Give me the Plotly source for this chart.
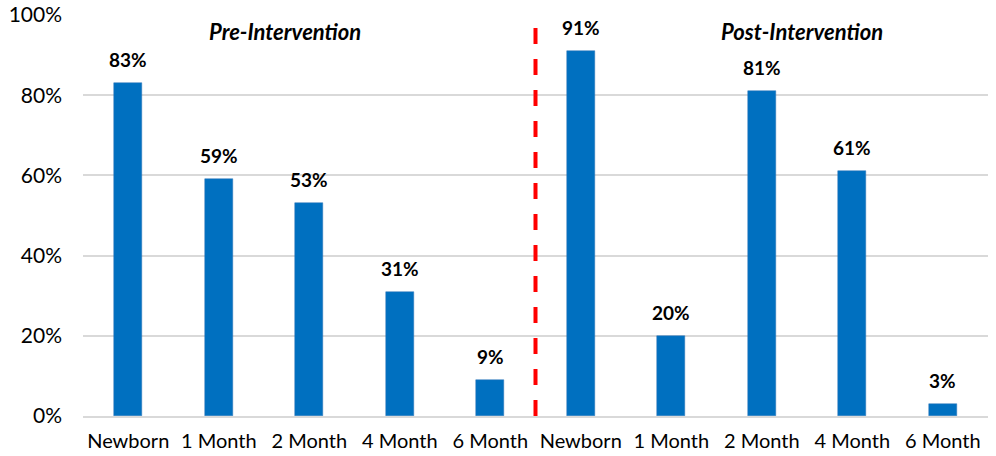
import plotly.graph_objects as go

categories = ["Newborn", "1 Month", "2 Month", "4 Month", "6 Month",
              "Newborn", "1 Month", "2 Month", "4 Month", "6 Month"]
values = [83, 59, 53, 31, 9, 91, 20, 81, 61, 3]
y_ticks = [0, 20, 40, 60, 80, 100]
y_tick_labels = ["0%", "20%", "40%", "60%", "80%", "100%"]
section_labels = ["Pre-Intervention", "Post-Intervention"]
section_centers = [1.73, 7.44]

x = list(range(len(categories)))
FONT = "Lato, 'Open Sans', sans-serif"

fig = go.Figure()
fig.add_trace(go.Bar(
    x=x, y=values, width=0.31,
    marker=dict(color="#0070C0", line=dict(color="#2E75B6", width=0.5)),
    hoverinfo="skip",
))

for xi, v in zip(x, values):
    fig.add_annotation(x=xi, y=v, text=f"<b>{v}%</b>", showarrow=False,
                       yanchor="bottom", yshift=10,
                       font=dict(family=FONT, size=19, color="#000000"))

for lbl, cx in zip(section_labels, section_centers):
    fig.add_annotation(x=cx, y=95.8, text=f"<b><i>{lbl}</i></b>", showarrow=False,
                       yanchor="middle",
                       font=dict(family=FONT, size=22, color="#000000"))

fig.add_shape(type="line", x0=4.5, x1=4.5, y0=0, y1=100, xref="x", yref="y",
              line=dict(color="#FF0000", width=4, dash="16px,15px"))

fig.update_layout(
    width=996, height=456,
    margin=dict(l=83, r=8, t=15, b=40),
    paper_bgcolor="white", plot_bgcolor="white",
    showlegend=False,
    font=dict(family=FONT, color="#000000"),
    bargap=0,
)
fig.update_xaxes(
    range=[-0.5, 9.5], tickmode="array", tickvals=x, ticktext=categories,
    tickfont=dict(family=FONT, size=20, color="#000000"),
    showgrid=False, showline=True, linecolor="#D9D9D9", linewidth=1.5,
    ticks="", ticklabelstandoff=6, automargin=False,
)
fig.update_yaxes(
    range=[0, 100], tickmode="array", tickvals=y_ticks, ticktext=y_tick_labels,
    tickfont=dict(family=FONT, size=21, color="#000000"),
    showgrid=True, gridcolor="#D9D9D9", gridwidth=1.5,
    zeroline=False, ticks="", ticklabelstandoff=20, automargin=False,
)

fig.write_html("out.html")
